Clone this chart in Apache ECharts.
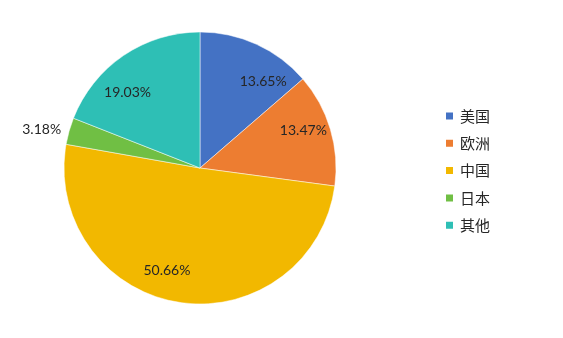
<!DOCTYPE html>
<html>
<head>
<meta charset="utf-8">
<script src="https://cdn.jsdelivr.net/npm/echarts@6/dist/echarts.min.js"></script>
<style>
html,body{margin:0;padding:0;background:#fff;}
#c{width:563px;height:338px;}
</style>
</head>
<body>
<div id="c"></div>
<script>
const categories = ['美国', '欧洲', '中国', '日本', '其他'];
const values = [13.65, 13.47, 50.66, 3.18, 19.03];
const colors = ['#4472C4', '#ED7D31', '#F2B800', '#70BF44', '#2EBFB5'];

// Excel "best fit" label nudges (style only), relative to library-computed positions
const insideNudge = [[17, 14], [-3, -6], [-16, -7], [0, 0], [-10, 16]];

const chart = echarts.init(document.getElementById('c'), null, {renderer: 'canvas'});
const numFont = 'Lato, "Noto Sans CJK SC", sans-serif';

const mainData = categories.map((n, i) => ({
  name: n,
  value: values[i],
  itemStyle: {color: colors[i]},
  label: {show: n === '日本'}
}));
const labelData = categories.map((n, i) => ({
  name: n,
  value: values[i],
  label: {show: n !== '日本'}
}));

chart.setOption({
  animation: false,
  backgroundColor: '#fff',
  legend: {
    orient: 'vertical',
    left: 439,
    top: 102,
    itemWidth: 9,
    itemHeight: 9,
    itemGap: 9.3,
    icon: 'rect',
    data: categories,
    textStyle: {
      fontFamily: '"Noto Sans CJK SC", sans-serif',
      fontSize: 15,
      color: '#262626',
      lineHeight: 18,
      padding: [0, 0, 0, 1]
    }
  },
  series: [
    {
      type: 'pie',
      center: [200, 168],
      radius: [0, 136],
      startAngle: 90,
      clockwise: true,
      avoidLabelOverlap: false,
      data: mainData,
      itemStyle: {borderColor: '#fff', borderWidth: 0.5},
      label: {
        position: 'outside',
        formatter: p => p.value.toFixed(2) + '%',
        fontFamily: numFont,
        fontSize: 14,
        color: '#262626',
        distanceToLabelLine: 2
      },
      labelLine: {show: false, length: 0, length2: 0},
      labelLayout: () => ({dx: -6, dy: -2}),
      emphasis: {disabled: true}
    },
    {
      type: 'pie',
      center: [200, 168],
      radius: [80, 136],
      startAngle: 90,
      clockwise: true,
      silent: true,
      avoidLabelOverlap: false,
      data: labelData,
      itemStyle: {color: 'rgba(0,0,0,0)'},
      label: {
        position: 'inside',
        formatter: p => p.value.toFixed(2) + '%',
        fontFamily: numFont,
        fontSize: 14,
        color: '#262626'
      },
      labelLine: {show: false},
      labelLayout: p => ({dx: insideNudge[p.dataIndex][0], dy: insideNudge[p.dataIndex][1]}),
      emphasis: {disabled: true}
    }
  ]
});
</script>
</body>
</html>
